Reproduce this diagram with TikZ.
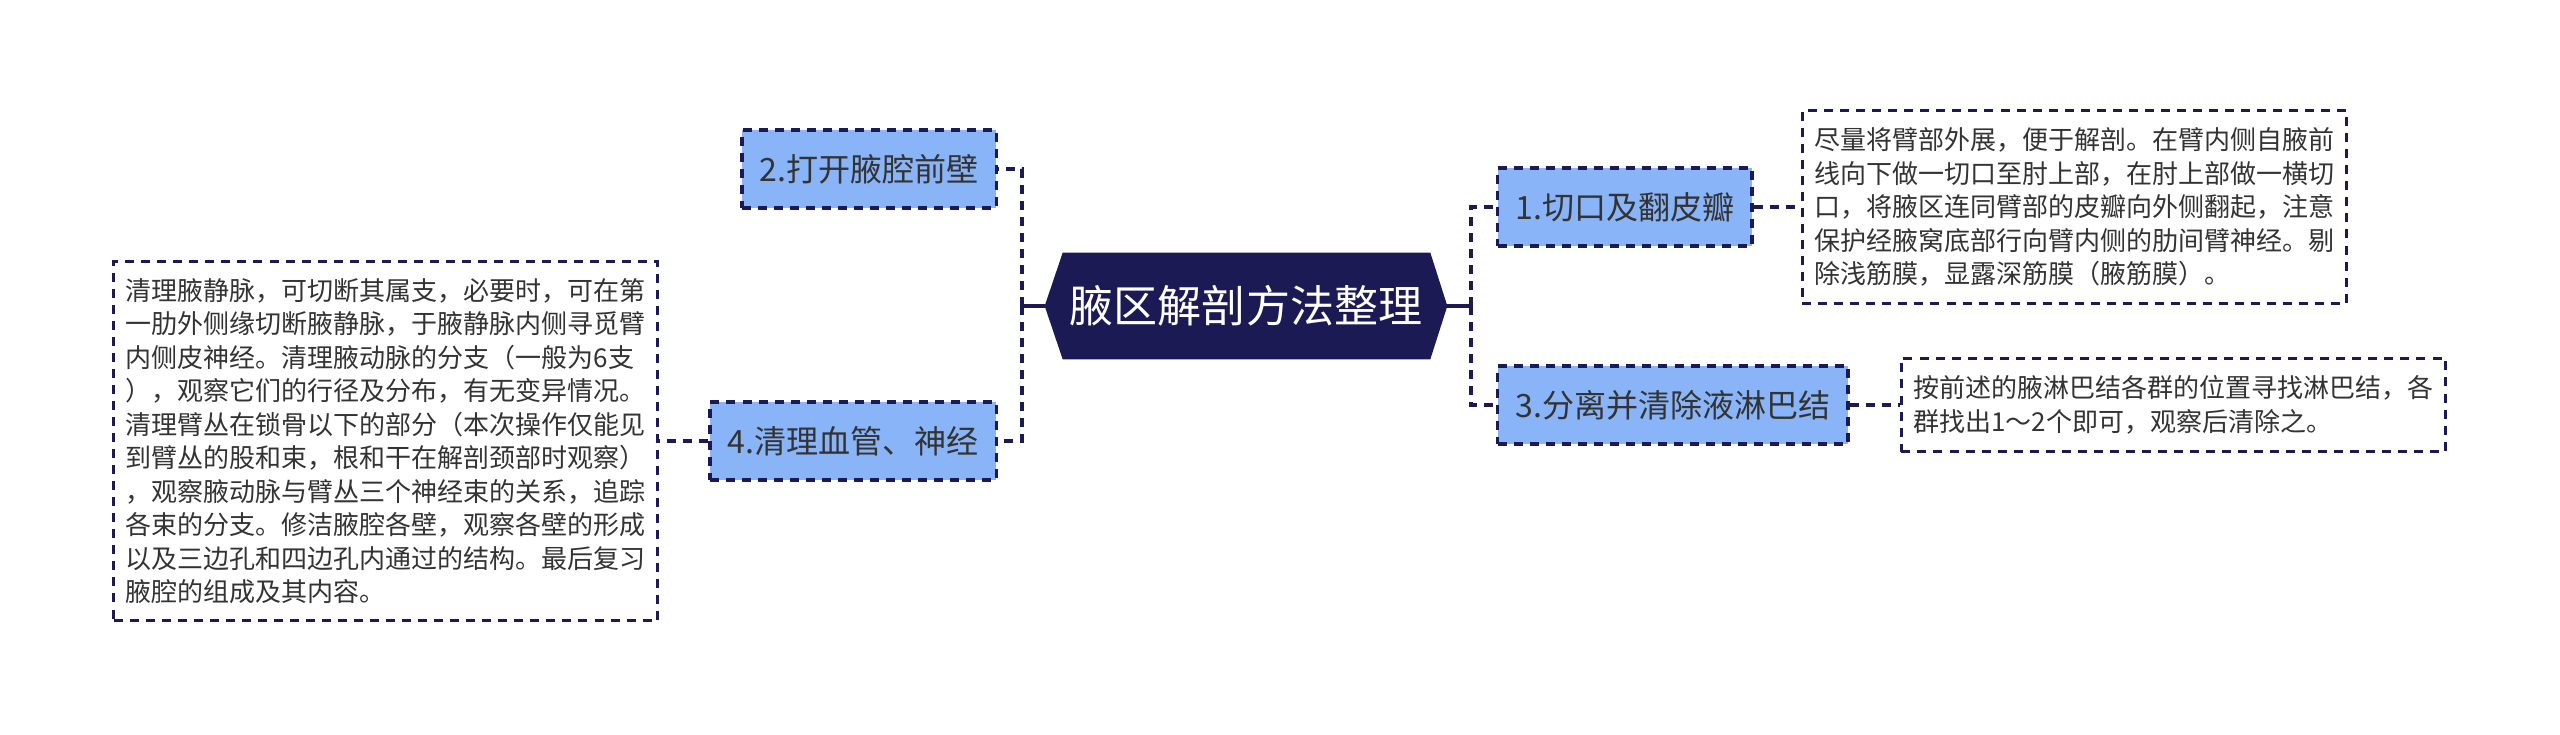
\documentclass[tikz,border=0pt]{standalone}
\usepackage{fontspec}
\setmainfont{Noto Sans CJK SC}
\usepackage{tikz}
\usetikzlibrary{calc}
\usetikzlibrary{backgrounds}
\usetikzlibrary{positioning}
\definecolor{navy}{HTML}{1B1A55}
\definecolor{topicblue}{HTML}{8AB4F8}
\definecolor{ink}{HTML}{333333}

\begin{document}
\begin{tikzpicture}[x=0.025cm, y=-0.025cm,
    link/.style={navy, line width=2.4pt},
    branch/.style={navy, line width=2.4pt, dash pattern=on 6.4pt off 5pt},
    topic/.style={draw=navy, line width=2.4pt, dash pattern=on 6.4pt off 5pt, fill=topicblue,
        text=ink, font=\fontsize{22.8}{26}\selectfont, inner xsep=0.44cm, minimum height=1.95cm},
    note/.style={draw=navy, line width=2.2pt, dash pattern=on 6.4pt off 5pt, fill=white,
        text=ink, font=\fontsize{18.5}{23.8}\selectfont, align=left, minimum width=13.6cm}]
    \useasboundingbox (0,0) rectangle (2560,735);
    \node[text=white, font=\fontsize{31.3}{36}\selectfont, minimum width=10.05cm, minimum height=2.65cm] (root) at (1246,306) {腋区解剖方法整理};
    \begin{scope}[on background layer]
        \fill[navy] (root.west) -- ([xshift=0.45cm]root.north west) -- ([xshift=-0.425cm]root.north east)
            -- (root.east) -- ([xshift=-0.425cm]root.south east) -- ([xshift=0.45cm]root.south west) -- cycle;
    \end{scope}

    \node[topic, anchor=west] (n1) at (1496,207) {1.切口及翻皮瓣};
    \node[topic, anchor=east] (n2) at (998,169) {2.打开腋腔前壁};
    \node[topic, anchor=west] (n3) at (1496,405) {3.分离并清除液淋巴结};
    \node[topic, anchor=east] (n4) at (998,441) {4.清理血管、神经};

    \node[note, minimum height=4.825cm, right=1.175cm of n1] (t1) {尽量将臂部外展，便于解剖。在臂内侧自腋前\\线向下做一切口至肘上部，在肘上部做一横切\\口，将腋区连同臂部的皮瓣向外侧翻起，注意\\保护经腋窝底部行向臂内侧的肋间臂神经。剔\\除浅筋膜，显露深筋膜（腋筋膜）。};
    \node[note, minimum height=2.325cm, right=1.25cm of n3] (t3) {按前述的腋淋巴结各群的位置寻找淋巴结，各\\群找出1～2个即可，观察后清除之。};
    \node[note, minimum height=8.975cm, left=1.225cm of n4] (t4) {清理腋静脉，可切断其属支，必要时，可在第\\一肋外侧缘切断腋静脉，于腋静脉内侧寻觅臂\\内侧皮神经。清理腋动脉的分支（一般为6支\\），观察它们的行径及分布，有无变异情况。\\清理臂丛在锁骨以下的部分（本次操作仅能见\\到臂丛的股和束，根和干在解剖颈部时观察）\\，观察腋动脉与臂丛三个神经束的关系，追踪\\各束的分支。修洁腋腔各壁，观察各壁的形成\\以及三边孔和四边孔内通过的结构。最后复习\\腋腔的组成及其内容。};

    \coordinate (rj) at (1471,306);
    \coordinate (lj) at (1022,306);
    \draw[link] (root.east) -- (rj);
    \draw[link] (root.west) -- (lj);
    \draw[branch] (rj) |- (n1.west);
    \draw[branch] (rj) |- (n3.west);
    \draw[branch] (lj) |- (n2.east);
    \draw[branch] (lj) |- (n4.east);
    \draw[branch] (n1.east) -- (t1.west);
    \draw[branch] (n3.east) -- (t3.west);
    \draw[branch] (n4.west) -- (t4.east);
\end{tikzpicture}
\end{document}
